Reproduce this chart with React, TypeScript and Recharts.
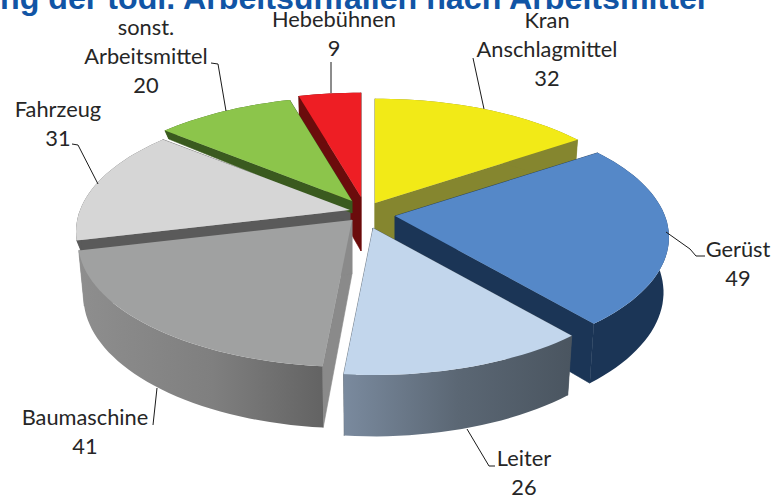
import React from "react";
import { PieChart, Pie } from "recharts";

const categories = ["Hebebühnen", "Kran Anschlagmittel", "Gerüst", "Leiter", "Baumaschine", "Fahrzeug", "sonst. Arbeitsmittel"];
const values = [9, 32, 49, 26, 41, 31, 20];
const labelLines = [["Hebebühnen"], ["Kran", "Anschlagmittel"], ["Gerüst"], ["Leiter"], ["Baumaschine"], ["Fahrzeug"], ["sonst.", "Arbeitsmittel"]];
const titleText = "ng der tödl. Arbeitsunfällen nach Arbeitsmittel";

const chartData = categories.map((name, i) => ({ name, value: values[i] }));

// Style and layout, kept apart from the data
const topColors = ["#ee1e24", "#f2ea17", "#5588c8", "#c2d6ec", "#a0a1a1", "#d6d6d6", "#8cc54b"];
const outerFills = ["#6b0c0c", "#85862f", "#1b3556", "url(#wallLeiter)", "url(#wallBau)", "#5a5a5a", "#3a5a1f"];
const cutFills = ["#6b0c0c", "#85862f", "#1b3556", "#4a5560", "#8a8a8a", "#5a5a5a", "#3a5a1f"];
const explode = [[0, -15], [14, -9], [34, 4], [12, 16], [-9, 8], [-11, -2], [-9, -11]];
const depths = [54, 54, 54, 54, 54, 12, 12];
const labelAnchors = [[334, 27], [547, 28], [738, 257], [524, 466], [85, 425], [58, 117], [146, 35]];
const leaders = [
  "M331 62L331 93",
  "M473 58L484 109",
  "M666 232L690 249L696 256L705 256",
  "M467 429L489 466L495 466",
  "M157 388L153 425",
  "M72 144L78 145L98 184",
  "M211 63L218 64L226 111",
];
const SQUASH = 0.452;
const PERSP = 0.17;
const BOTTOM_X = 0.98;
const BOTTOM_Y = 1.05;
const LINE_H = 29;
const START_ANGLE = 90 + (360 * values[0]) / values.reduce((a, b) => a + b, 0);

type Pt = [number, number];
const rad = (d: number) => (d * Math.PI) / 180;

function project(angleDeg: number, R: number): Pt {
  const th = rad(90 - angleDeg);
  const c = Math.cos(th);
  const s = 1 / (1 + PERSP * c);
  return [R * Math.sin(th) * s, -R * SQUASH * c * s];
}

function geometry(p: any) {
  const idx = categories.indexOf(p.name ?? p.payload?.name);
  const ox = p.cx + explode[idx][0];
  const oy = p.cy + explode[idx][1];
  const a0 = p.startAngle;
  const a1 = p.endAngle;
  const n = Math.max(8, Math.ceil(Math.abs(a1 - a0) / 2));
  const arc: Pt[] = [];
  for (let i = 0; i <= n; i++) arc.push(project(a0 + ((a1 - a0) * i) / n, p.outerRadius));
  const top = (q: Pt): Pt => [ox + q[0], oy + q[1]];
  const bot = (q: Pt): Pt => [ox + q[0] * BOTTOM_X, oy + depths[idx] + q[1] * BOTTOM_Y];
  return { idx, ox, oy, arc, top, bot };
}

const toPath = (pts: Pt[]) => "M" + pts.map((q) => q[0].toFixed(1) + " " + q[1].toFixed(1)).join("L") + "Z";

function WallShape(p: any) {
  const { idx, arc, top, bot } = geometry(p);
  const tip: Pt = [0, 0];
  const outer = [...arc.map(top), ...arc.slice().reverse().map(bot)];
  const cutA = [top(tip), top(arc[0]), bot(arc[0]), bot(tip)];
  const last = arc[arc.length - 1];
  const cutB = [top(tip), top(last), bot(last), bot(tip)];
  const seam = cutFills[idx];
  return (
    <g>
      <path d={toPath(cutA)} fill={cutFills[idx]} stroke={seam} strokeWidth={0.6} />
      <path d={toPath(cutB)} fill={cutFills[idx]} stroke={seam} strokeWidth={0.6} />
      <path d={toPath(outer)} fill={outerFills[idx]} />
    </g>
  );
}

function TopShape(p: any) {
  const { idx, arc, top } = geometry(p);
  const pts = [top([0, 0]), ...arc.map(top)];
  return <path d={toPath(pts)} fill={topColors[idx]} />;
}

function renderLabel(p: any) {
  const i = p.index;
  const [x, y] = labelAnchors[i];
  const lines = [...labelLines[i], String(values[i])];
  return (
    <text x={x} y={y} textAnchor="middle" fontFamily="Lato" fontSize={21.8} fill="#262626">
      {lines.map((t, j) => (
        <tspan key={j} x={x} y={y + j * LINE_H}>{t}</tspan>
      ))}
    </text>
  );
}

function renderLine(p: any) {
  return <path d={leaders[p.index]} fill="none" stroke="#1a1a1a" strokeWidth={1} />;
}

export default function App() {
  const common = {
    data: chartData,
    dataKey: "value",
    nameKey: "name",
    cx: 361,
    cy: 212,
    innerRadius: 0,
    outerRadius: 270,
    startAngle: START_ANGLE,
    endAngle: START_ANGLE - 360,
    stroke: "none",
    isAnimationActive: false,
  };
  return (
    <div style={{ position: "absolute", left: 0, top: 0, width: 776, height: 500, overflow: "hidden", background: "#fff" }}>
      <PieChart width={776} height={500} margin={{ top: 0, right: 0, bottom: 0, left: 0 }}>
        <defs>
          <linearGradient id="wallLeiter" x1="0" y1="0" x2="1" y2="0">
            <stop offset="0" stopColor="#7a8a9e" />
            <stop offset="0.5" stopColor="#5b6774" />
            <stop offset="1" stopColor="#4a5560" />
          </linearGradient>
          <linearGradient id="wallBau" x1="0" y1="0" x2="1" y2="0">
            <stop offset="0" stopColor="#8e8e8e" />
            <stop offset="0.55" stopColor="#7f7f7f" />
            <stop offset="1" stopColor="#636363" />
          </linearGradient>
        </defs>
        <Pie {...common} shape={WallShape} label={false} labelLine={false} />
        <Pie {...common} shape={TopShape} label={renderLabel} labelLine={renderLine} />
      </PieChart>
      <div
        style={{
          position: "absolute",
          left: 0,
          top: -20,
          whiteSpace: "nowrap",
          fontFamily: "Liberation Sans",
          fontWeight: "bold",
          fontSize: 32.2,
          lineHeight: "36px",
          color: "#1155a5",
        }}
      >
        {titleText}
      </div>
    </div>
  );
}
